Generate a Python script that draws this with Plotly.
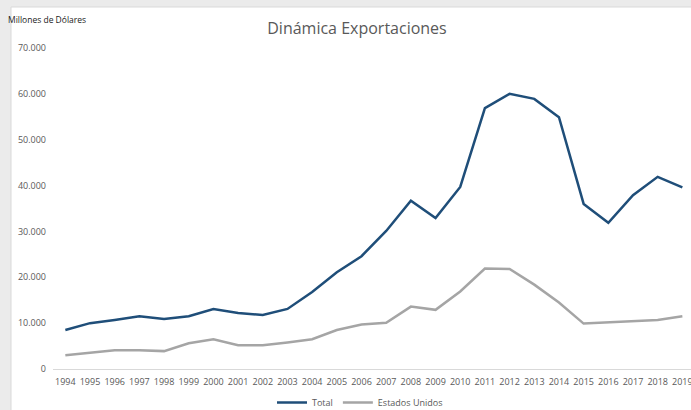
import plotly.graph_objects as go

# Data (millions of USD)
years = [str(y) for y in range(1994, 2020)]
total = [8500, 10000, 10700, 11500, 10900, 11500, 13100, 12200, 11800, 13100,
         16800, 21100, 24600, 30100, 36700, 32900, 39700, 56900, 60000, 58900,
         54900, 36000, 31900, 37900, 41900, 39600]
estados_unidos = [3000, 3500, 4100, 4100, 3900, 5600, 6500, 5200, 5200, 5800,
                  6500, 8500, 9700, 10100, 13600, 12900, 16900, 21900, 21800, 18400,
                  14500, 9900, 10200, 10400, 10700, 11500]
y_ticks = [0, 10000, 20000, 30000, 40000, 50000, 60000, 70000]

W, H = 691, 410
M_L, M_R, M_T, M_B = 53, 0, 48, 41
BLUE = "#1f4e79"
GREY = "#a5a5a5"
TEXT = "#595959"
FONT = "Open Sans"

# helpers to turn pixel positions into paper coords
plot_w = W - M_L - M_R
plot_h = H - M_T - M_B


def px_x(px):
    return (px - M_L) / plot_w


def px_y(py):
    return (H - M_B - py) / plot_h


fig = go.Figure()
fig.add_trace(go.Scatter(x=years, y=total, mode="lines", name="Total",
                         line=dict(color=BLUE, width=2.5)))
fig.add_trace(go.Scatter(x=years, y=estados_unidos, mode="lines", name="Estados Unidos",
                         line=dict(color=GREY, width=2.5)))

fig.update_layout(
    width=W, height=H,
    margin=dict(l=M_L, r=M_R, t=M_T, b=M_B, autoexpand=False),
    paper_bgcolor="#ebebeb",
    plot_bgcolor="rgba(0,0,0,0)",
    separators=",.",
    font=dict(family=FONT, size=9, color=TEXT),
    title=dict(text="Dinámica Exportaciones", x=357 / W, xanchor="center",
               y=1 - 28 / H, yanchor="middle",
               font=dict(family=FONT, size=16, color=TEXT)),
    legend=dict(orientation="h", xref="container", yref="container",
                x=360 / W, xanchor="center", y=1 - 388 / H, yanchor="top",
                font=dict(size=9, color=TEXT),
                itemwidth=30, bgcolor="rgba(0,0,0,0)"),
    shapes=[
        # white chart area over the grey surround
        dict(type="rect", xref="paper", yref="paper", layer="below",
             x0=px_x(11), x1=px_x(W + 5), y0=px_y(H + 5), y1=px_y(7),
             fillcolor="white", line=dict(color="#d9d9d9", width=1)),
    ],
    annotations=[
        dict(text="Millones de Dólares", xref="paper", yref="paper",
             x=px_x(6), y=px_y(20), xanchor="left", yanchor="middle",
             showarrow=False, font=dict(family=FONT, size=8.5, color="#222222")),
    ],
)

fig.update_xaxes(type="category", range=[-0.5, 25.35], showgrid=False,
                 showline=True, linecolor="#d9d9d9", linewidth=1, automargin=False,
                 ticks="", ticklabelstandoff=4, tickfont=dict(size=9, color=TEXT))
fig.update_yaxes(range=[0, 70000], tickvals=y_ticks, tickformat=",",
                 showgrid=False, zeroline=False, showline=False, automargin=False,
                 ticks="", ticklabelstandoff=6, tickfont=dict(size=9, color=TEXT))

# drop the browser's default body margin so the figure sits at the window corner
fig.write_html("out.html", config={"displayModeBar": False},
               post_script="document.body.style.margin='0';")
